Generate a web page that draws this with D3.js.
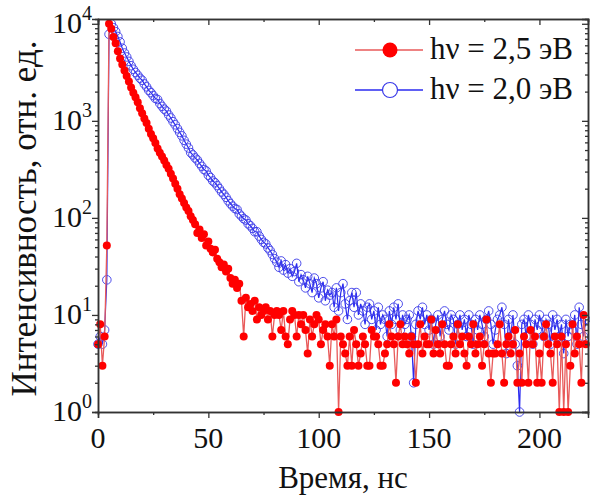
<!DOCTYPE html>
<html>
<head>
<meta charset="utf-8">
<script src="https://cdn.jsdelivr.net/npm/d3@7"></script>
</head>
<body style="margin:0; font-family:'Liberation Serif'">
<div id="chart"></div>
<script>
// time bin of the decay curves, ns
var timeStep = 1;

// hν = 2,5 эВ (red, filled)
var red25 = [
    5, 8, 3, 6, 52, 10000, 8900, 7300, 6300, 5200,
    4400, 3800, 3300, 2900, 2550, 2200, 1950, 1750, 1550, 1350,
    1200, 1060, 950, 830, 730, 660, 590, 520, 470, 430,
    390, 350, 320, 285, 255, 225, 200, 175, 158, 142,
    128, 118, 104, 95, 86, 70, 76, 62, 68, 52,
    57, 48, 44, 47, 38, 35, 31, 33, 28, 30,
    24, 21, 23, 19, 21, 14, 6, 15, 12, 13,
    11, 14, 9, 12, 10, 11, 12, 9, 11, 6,
    10, 11, 10, 7, 11, 6, 5, 9, 11, 10,
    6, 10, 8, 10, 7, 4, 9, 6, 8, 10,
    9, 5, 7, 8, 6, 3, 8, 6, 9, 1,
    6, 5, 4, 3, 6, 3, 7, 5, 3, 4,
    6, 5, 3, 3, 7, 6, 6, 5, 3, 3,
    4, 5, 8, 6, 5, 2, 6, 8, 5, 6,
    5, 4, 6, 5, 2, 5, 8, 4, 6, 5,
    5, 9, 4, 7, 5, 4, 8, 5, 3, 3,
    5, 6, 4, 8, 5, 6, 4, 3, 6, 5,
    8, 4, 5, 6, 3, 5, 9, 4, 2, 4,
    4, 5, 8, 4, 2, 5, 6, 4, 5, 7,
    2, 4, 2, 6, 5, 2, 7, 5, 6, 2,
    4, 2, 6, 8, 5, 4, 2, 6, 5, 1,
    6, 1, 5, 1, 3, 8, 4, 6, 5, 2,
    10, 5
];

// hν = 2,0 эВ (blue, open)
var blue20 = [
    5, 6, 5, 7, 23, 7800, 10000, 9100, 8300, 7400,
    6500, 5600, 5000, 4550, 4100, 3700, 3400, 3150, 2950, 2750,
    2620, 2400, 2240, 2060, 1950, 1820, 1700, 1660, 1510, 1410,
    1320, 1260, 1150, 1070, 980, 910, 830, 760, 700, 630,
    575, 525, 470, 445, 415, 395, 365, 340, 315, 305,
    275, 260, 240, 230, 215, 200, 185, 175, 163, 150,
    140, 132, 125, 122, 110, 104, 98, 95, 87, 83,
    78, 72, 72, 65, 60, 56, 54, 49, 46, 42,
    38, 35, 31, 36, 29, 33, 27, 30, 25, 28,
    34, 22, 26, 23, 19, 25, 21, 17, 24, 21,
    15, 19, 22, 14, 18, 16, 17, 12, 19, 11,
    17, 21, 13, 9, 14, 17, 12, 17, 10, 13,
    11, 8, 12, 13, 9, 11, 7, 12, 8, 10,
    9, 6, 11, 8, 12, 9, 13, 7, 10, 8,
    9, 10, 6, 2, 8, 11, 9, 12, 8, 10,
    7, 9, 5, 8, 10, 6, 9, 11, 8, 7,
    10, 9, 5, 8, 10, 7, 9, 6, 10, 8,
    5, 9, 7, 10, 8, 6, 9, 11, 8, 5,
    7, 9, 10, 12, 8, 4, 9, 6, 10, 5,
    3, 1, 8, 9, 6, 10, 8, 5, 9, 7,
    10, 8, 6, 9, 8, 5, 10, 7, 9, 6,
    8, 4, 9, 6, 8, 7, 10, 5, 12, 8,
    6, 9
];

var seriesNames = ["h\u03bd = 2,5 эВ", "h\u03bd = 2,0 эВ"];
var xTicks = [0, 50, 100, 150, 200];
var xMinorTicks = [25, 75, 125, 175];
var yTicks = [1, 10, 100, 1000, 10000];
var yExponents = ["0", "1", "2", "3", "4"];

var serif = "'Liberation Serif'";

var margin = {top: 19, right: 2, bottom: 86, left: 98},
    width = 590 - margin.left - margin.right,
    height = 498 - margin.top - margin.bottom;

var root = d3.select("#chart")
    .append("svg")
    .attr("width", width + margin.left + margin.right)
    .attr("height", height + margin.top + margin.bottom);

var svg = root.append("g")
    .attr("transform", "translate(" + margin.left + "," + margin.top + ")");

var x = d3.scaleLinear()
    .domain([0, 222])
    .range([0, width]);

var y = d3.scaleLog()
    .domain([1, 11200])
    .range([height, 0]);

// minor ticks of the log axis: 2..9 in every decade
var yMinorTicks = [];
yTicks.slice(0, -1).forEach(function(d) {
    for (var k = 2; k <= 9; k++) yMinorTicks.push(d * k);
});

function toPoints(values) {
    return values.map(function(v, i) { return {t: i * timeStep, v: v}; });
}
var redData = toPoints(red25);
var blueData = toPoints(blue20);

var line = d3.line()
    .x(function(d) { return x(d.t); })
    .y(function(d) { return y(d.v); });

var plot = svg.append("g");

// blue series under the red one
plot.append("path")
    .datum(blueData)
    .attr("fill", "none")
    .attr("stroke", "#2b2bf0")
    .attr("stroke-width", 1.2)
    .attr("d", line);

plot.selectAll(".blue-dot")
    .data(blueData)
    .enter()
    .append("circle")
    .attr("class", "blue-dot")
    .attr("cx", function(d) { return x(d.t); })
    .attr("cy", function(d) { return y(d.v); })
    .attr("r", 4.3)
    .attr("fill", "none")
    .attr("stroke", "#3a3ae8")
    .attr("stroke-width", 0.9);

plot.append("path")
    .datum(redData)
    .attr("fill", "none")
    .attr("stroke", "#e85a5a")
    .attr("stroke-width", 1.3)
    .attr("d", line);

plot.selectAll(".red-dot")
    .data(redData)
    .enter()
    .append("circle")
    .attr("class", "red-dot")
    .attr("cx", function(d) { return x(d.t); })
    .attr("cy", function(d) { return y(d.v); })
    .attr("r", 4)
    .attr("fill", "#ff0000");

function styleAxis(g) {
    g.select(".domain").attr("stroke", "#333").attr("stroke-width", 1.5);
    g.selectAll(".tick line").attr("stroke", "#333").attr("stroke-width", 1.3);
}

// axes: bottom / left outward, top / right mirrored inward (labels drawn below)
svg.append("g")
    .attr("transform", "translate(0," + height + ")")
    .call(d3.axisBottom(x).tickValues(xTicks).tickSize(6).tickFormat(""))
    .call(styleAxis);

svg.append("g")
    .attr("transform", "translate(0," + height + ")")
    .call(d3.axisBottom(x).tickValues(xMinorTicks).tickSize(3).tickFormat(""))
    .call(styleAxis);

svg.append("g")
    .call(d3.axisTop(x).tickValues(xTicks).tickSize(-6).tickFormat(""))
    .call(styleAxis);

svg.append("g")
    .call(d3.axisTop(x).tickValues(xMinorTicks).tickSize(-3).tickFormat(""))
    .call(styleAxis);

svg.append("g")
    .call(d3.axisLeft(y).tickValues(yTicks).tickSize(6).tickFormat(""))
    .call(styleAxis);

svg.append("g")
    .call(d3.axisLeft(y).tickValues(yMinorTicks).tickSize(3).tickFormat(""))
    .call(styleAxis);

svg.append("g")
    .attr("transform", "translate(" + width + ",0)")
    .call(d3.axisRight(y).tickValues(yTicks).tickSize(-6).tickFormat(""))
    .call(styleAxis);

svg.append("g")
    .attr("transform", "translate(" + width + ",0)")
    .call(d3.axisRight(y).tickValues(yMinorTicks).tickSize(-3).tickFormat(""))
    .call(styleAxis);

// all text goes straight into the root svg, in page coordinates
root.selectAll(".x-label")
    .data(xTicks)
    .enter()
    .append("text")
    .attr("class", "x-label")
    .attr("x", function(d) { return margin.left + x(d); })
    .attr("y", margin.top + height + 36)
    .attr("text-anchor", "middle")
    .attr("fill", "#111")
    .style("font-family", serif)
    .style("font-size", "30px")
    .text(function(d) { return d; });

var yLabel = root.selectAll(".y-label")
    .data(yTicks)
    .enter()
    .append("text")
    .attr("class", "y-label")
    .attr("x", margin.left - 6)
    .attr("y", function(d) { return margin.top + y(d) + 9; })
    .attr("text-anchor", "end")
    .attr("fill", "#111")
    .style("font-family", serif)
    .style("font-size", "30px");
yLabel.append("tspan").text("10");
yLabel.append("tspan")
    .attr("dy", -13)
    .style("font-size", "20px")
    .text(function(d, i) { return yExponents[i]; });

root.append("text")
    .attr("x", margin.left + width / 2)
    .attr("y", margin.top + height + 76)
    .attr("text-anchor", "middle")
    .attr("fill", "#111")
    .style("font-family", serif)
    .style("font-size", "31px")
    .text("Время, нс");

root.append("text")
    .attr("transform", "translate(" + (margin.left - 62) + "," + (margin.top + height / 2 + 3) + ") rotate(-90)")
    .attr("text-anchor", "middle")
    .attr("fill", "#111")
    .style("font-family", serif)
    .style("font-size", "35px")
    .text("Интенсивность, отн. ед.");

// legend
var legendRows = [
    {name: seriesNames[0], line: "#e85a5a", fill: "#ff0000", stroke: "none", yPos: 50},
    {name: seriesNames[1], line: "#2b2bf0", fill: "#fff", stroke: "#3a3ae8", yPos: 90}
];

root.selectAll(".legend-line")
    .data(legendRows)
    .enter()
    .append("line")
    .attr("class", "legend-line")
    .attr("x1", 355)
    .attr("x2", 423)
    .attr("y1", function(d) { return d.yPos; })
    .attr("y2", function(d) { return d.yPos; })
    .attr("stroke", function(d) { return d.line; })
    .attr("stroke-width", 1.3);

root.selectAll(".legend-dot")
    .data(legendRows)
    .enter()
    .append("circle")
    .attr("class", "legend-dot")
    .attr("cx", 390)
    .attr("cy", function(d) { return d.yPos; })
    .attr("r", 7.5)
    .attr("fill", function(d) { return d.fill; })
    .attr("stroke", function(d) { return d.stroke; })
    .attr("stroke-width", 1.2);

root.selectAll(".legend-text")
    .data(legendRows)
    .enter()
    .append("text")
    .attr("class", "legend-text")
    .attr("x", 430)
    .attr("y", function(d) { return d.yPos + 9; })
    .attr("fill", "#111")
    .style("font-family", serif)
    .style("font-size", "31px")
    .text(function(d) { return d.name; });
</script>
</body>
</html>
